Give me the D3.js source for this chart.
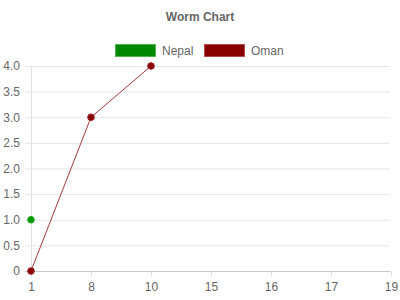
<!DOCTYPE html>
<html><head><meta charset="utf-8">
<script src="https://cdn.jsdelivr.net/npm/d3@7"></script>
<style>body{margin:0;background:#fff}svg{display:block}text{font-family:"Liberation Sans",Arial,sans-serif;fill:#666}</style>
</head><body>
<svg id="c" width="400" height="300"></svg>
<script>
const categories = ["1","8","10","15","16","17","19"];
const nepalX = ["1"];
const nepalValues = [1.0];
const omanX = ["1","8","10"];
const omanValues = [0, 3, 4];
const yTicks = [0,0.5,1,1.5,2,2.5,3,3.5,4];
const seriesNames = ["Nepal","Oman"];

const svg = d3.select("#c");
const x = d3.scalePoint().domain(categories).range([31,391]);
const y = d3.scaleLinear().domain([0,4]).range([271,66]);

svg.append("text").attr("x",200).attr("y",21).attr("text-anchor","middle")
  .attr("font-size",12).attr("font-weight","bold").text("Worm Chart");

// legend
const leg = [{n:seriesNames[0],fill:"#008800",stroke:"#4db34d",x:115},{n:seriesNames[1],fill:"#880000",stroke:"#b34d4d",x:204}];
leg.forEach(l=>{
  svg.append("rect").attr("x",l.x+0.5).attr("y",44.5).attr("width",40).attr("height",12)
    .attr("fill",l.fill).attr("stroke",l.stroke).attr("stroke-width",1);
  svg.append("text").attr("x",l.x+47).attr("y",54.5).attr("font-size",12).text(l.n);
});

// grid y
const gy = svg.append("g").attr("transform","translate(31,0)")
  .call(d3.axisLeft(y).tickValues(yTicks).tickSize(-360).tickPadding(10)
    .tickFormat(d=> d===0 ? "0" : d3.format(".1f")(d)));
gy.select(".domain").remove();
gy.selectAll(".tick line").attr("stroke","#e6e6e6").attr("x1",-6).attr("x2",359)
  .filter(d=>d===0).attr("stroke","#c8c8c8");
gy.selectAll(".tick text").attr("font-size",12).attr("font-family","Liberation Sans, Arial, sans-serif").attr("fill","#666").attr("x",-11);

// x axis
const gx = svg.append("g").attr("transform","translate(0,271)")
  .call(d3.axisBottom(x).tickSize(6).tickPadding(5));
gx.select(".domain").remove();
gx.selectAll(".tick line").attr("stroke","#e0e0e0");
gx.selectAll(".tick text").attr("font-size",12).attr("font-family","Liberation Sans, Arial, sans-serif").attr("fill","#666");
svg.append("line").attr("x1",31.5).attr("x2",31.5).attr("y1",66).attr("y2",271).attr("stroke","#e0e0e0");

// Oman line
const omanData = omanX.map((c,i)=>({c,v:omanValues[i]}));
svg.append("path").datum(omanData)
  .attr("d", d3.line().x(d=>x(d.c)).y(d=>y(d.v)))
  .attr("fill","none").attr("stroke","#a83a3a").attr("stroke-width",1);
svg.selectAll(".om").data(omanData).enter().append("circle")
  .attr("cx",d=>x(d.c)).attr("cy",d=>y(d.v)).attr("r",3.3).attr("fill","#8b0000").attr("stroke","#9a2020");

const nepalData = nepalX.map((c,i)=>({c,v:nepalValues[i]}));
svg.selectAll(".np").data(nepalData).enter().append("circle")
  .attr("cx",d=>x(d.c)).attr("cy",d=>y(d.v)).attr("r",3.3).attr("fill","#009900").attr("stroke","#1aa31a");
</script>
</body></html>
